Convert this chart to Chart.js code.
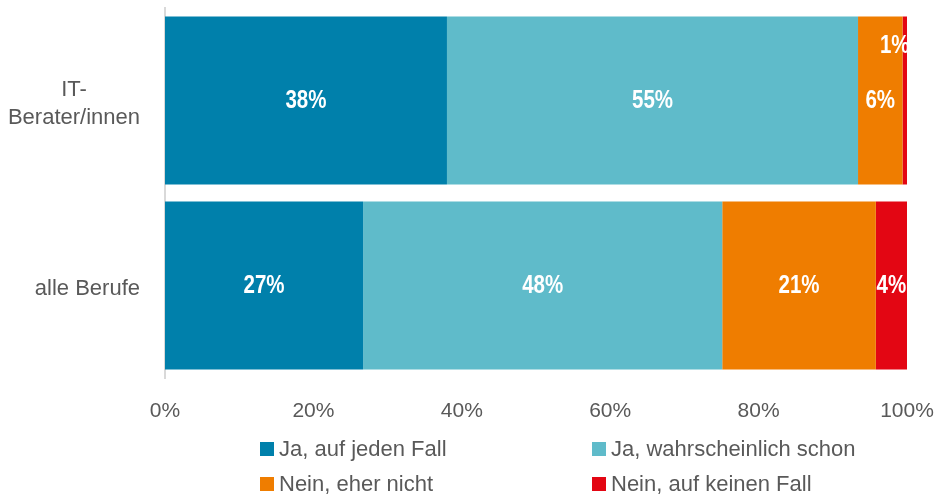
<!DOCTYPE html>
<html>
<head>
<meta charset="utf-8">
<script src="https://cdn.jsdelivr.net/npm/chart.js@4.4.1/dist/chart.umd.min.js"></script>
<style>
  body { margin: 0; background: #fff; }
  #wrap { width: 934px; height: 495px; position: relative; }
</style>
</head>
<body>
<div id="wrap"><canvas id="chart"></canvas></div>
<script>
// categories and series (percent shares)
const categories = [["IT-", "Berater/innen"], "alle Berufe"];
const seriesNames = ["Ja, auf jeden Fall", "Ja, wahrscheinlich schon", "Nein, eher nicht", "Nein, auf keinen Fall"];
const jaAufJedenFall = [38.0, 26.7];
const jaWahrscheinlich = [55.4, 48.4];
const neinEherNicht = [6.0, 20.7];
const neinAufKeinenFall = [0.6, 4.2];
const xTicks = [0, 20, 40, 60, 80, 100];

const colors = ["#0080AB", "#5FBBCA", "#EF7D00", "#E30613"];
const textGrey = "#595959";
const plainFont = "'Liberation Sans', Arial, sans-serif";

let seriesValues = [jaAufJedenFall, jaWahrscheinlich, neinEherNicht, neinAufKeinenFall];

// draws text squeezed horizontally (no narrow font installed)
function narrowText(ctx, text, x, y, squeeze){
    ctx.save();
    ctx.translate(x, y);
    ctx.scale(squeeze, 1);
    ctx.fillText(text, 0, 0);
    ctx.restore();
}

// white percentage labels inside the segments
const barLabels = {
    id: 'barLabels',
    afterDatasetsDraw(chart){
        let ctx = chart.ctx;
        ctx.save();
        ctx.fillStyle = "#fff";
        ctx.font = "bold 25px " + plainFont;
        ctx.textAlign = "center";
        ctx.textBaseline = "middle";
        chart.data.datasets.forEach((ds, i) => {
            let meta = chart.getDatasetMeta(i);
            meta.data.forEach((bar, j) => {
                let v = ds.data[j];
                let x = (bar.x + bar.base) / 2;
                let y = bar.y + 1;
                // tiny segment: label pushed up and left like in the original
                if(v < 2){
                    x -= 10;
                    y -= 55;
                }
                narrowText(ctx, Math.round(v) + "%", x, y, 0.82);
            });
        });
        ctx.restore();
    }
};

// category names: block right aligned, lines centred inside the block
const categoryLabels = {
    id: 'categoryLabels',
    afterDraw(chart){
        let ctx = chart.ctx;
        let yScale = chart.scales.y;
        let right = 140;
        let lineH = 28;
        ctx.save();
        ctx.font = "22px " + plainFont;
        ctx.fillStyle = textGrey;
        ctx.textBaseline = "middle";
        ctx.textAlign = "center";
        chart.data.labels.forEach((lab, i) => {
            let lines = Array.isArray(lab) ? lab : [lab];
            let w = Math.max(...lines.map(l => ctx.measureText(l).width));
            let cx = right - w / 2;
            let y0 = yScale.getPixelForTick(i) + 3 - (lines.length - 1) * lineH / 2;
            lines.forEach((l, k) => ctx.fillText(l, cx, y0 + k * lineH));
        });
        ctx.restore();
    }
};

// legend in two columns
const gridLegend = {
    id: 'gridLegend',
    afterDraw(chart){
        let ctx = chart.ctx;
        let colX = [260, 592];
        let rowY = [449, 484];
        ctx.save();
        ctx.font = "22px " + plainFont;
        ctx.textBaseline = "middle";
        ctx.textAlign = "left";
        chart.data.datasets.forEach((ds, i) => {
            let x = colX[i % 2];
            let y = rowY[Math.floor(i / 2)];
            ctx.fillStyle = ds.backgroundColor;
            ctx.fillRect(x, y - 7, 14, 14);
            ctx.fillStyle = textGrey;
            ctx.fillText(ds.label, x + 19, y + 1);
        });
        ctx.restore();
    }
};

let datasets = seriesNames.map((name, i) => ({
    label: name,
    data: seriesValues[i],
    backgroundColor: colors[i],
    borderWidth: 0,
    barPercentage: 0.908,
    categoryPercentage: 1.0
}));

let graphChart = new Chart(document.getElementById("chart"), {
    type: 'bar',
    data: {
        labels: categories,
        datasets: datasets
    },
    options: {
        indexAxis: 'y',
        responsive: true,
        maintainAspectRatio: false,
        animation: false,
        layout: {
            autoPadding: false,
            padding: { top: 8, right: 27, bottom: 73, left: 0 }
        },
        plugins: {
            legend: { display: false },
            tooltip: { enabled: false }
        },
        scales: {
            x: {
                stacked: true,
                min: 0,
                max: 100,
                afterBuildTicks(scale){
                    scale.ticks = xTicks.map(v => ({ value: v }));
                },
                afterFit(scale){
                    scale.height = 44;
                    scale.paddingLeft = 0;
                    scale.paddingRight = 0;
                },
                grid: { display: false, drawTicks: false },
                border: { display: false },
                ticks: {
                    padding: 21,
                    maxRotation: 0,
                    color: textGrey,
                    font: { family: plainFont, size: 21 },
                    callback: v => v + '%'
                }
            },
            y: {
                stacked: true,
                afterFit(scale){
                    scale.width = 165;
                    scale.paddingTop = 0;
                    scale.paddingBottom = 0;
                },
                grid: { display: false, drawTicks: false },
                border: { display: true, color: "#D9D9D9", width: 2 },
                ticks: { display: false }
            }
        }
    },
    plugins: [barLabels, categoryLabels, gridLegend]
});
</script>
</body>
</html>
